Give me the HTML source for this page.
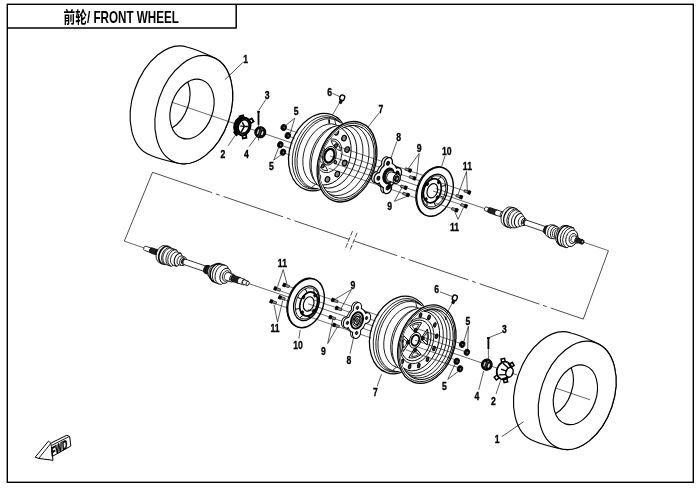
<!DOCTYPE html>
<html lang="zh">
<head>
<meta charset="utf-8">
<title>前轮/ FRONT WHEEL</title>
<style>
html,body{margin:0;padding:0;background:#fff;}
body{width:700px;height:488px;overflow:hidden;}
svg{display:block;will-change:transform;font-family:"Liberation Sans","Noto Sans CJK SC",sans-serif;}
svg path, svg ellipse, svg line{stroke-linecap:butt;stroke-linejoin:round;}
</style>
</head>
<body>
<svg width="700" height="488" viewBox="0 0 700 488">
<rect x="0" y="0" width="700" height="488" fill="#fff"/>
<rect x="7.3" y="4.3" width="686" height="478" fill="none" stroke="#000" stroke-width="1.4"/>
<path d="M7.3 28H236.2V4.3" fill="none" stroke="#000" stroke-width="1.5"/>
<text transform="translate(63.6 22.8) scale(0.72 1)" font-size="16.2" font-weight="bold">前轮/ FRONT WHEEL</text>
<line x1="152.5" y1="172.3" x2="124.3" y2="241.2" stroke="#000" stroke-width="0.7"/>
<line x1="152.5" y1="172.3" x2="349" y2="239.3" stroke="#000" stroke-width="0.7" stroke-dasharray="63 4 4 4"/>
<line x1="583.3" y1="319.1" x2="354.2" y2="241" stroke="#000" stroke-width="0.7" stroke-dasharray="34.5 4 4 4 63 4 4 4 63 4 4 4 63"/>
<line x1="583.3" y1="319.1" x2="608.4" y2="250.7" stroke="#000" stroke-width="0.7"/>
<line x1="352.5" y1="231.1" x2="345" y2="249.4" stroke="#000" stroke-width="0.7" stroke-dasharray="5 1.5"/>
<line x1="357.1" y1="232.8" x2="349.6" y2="251.2" stroke="#000" stroke-width="0.7" stroke-dasharray="5 1.5"/>
<path d="M150.62 155.25A36.26 57.1 18.88 0 1 187.58 47.19C199.02 50.05 207.1 54.43 214.22 57.82A36.44 55.8 18.88 0 1 178.19 163.16C170.49 161.47 161.41 159.99 150.62 155.25Z" fill="#fff" stroke="#000" stroke-width="1.15"/>
<ellipse cx="193.8" cy="109.66" rx="36.44" ry="55.8" transform="rotate(18.88 193.8 109.66)" fill="#fff" stroke="#000" stroke-width="1.15"/>
<ellipse cx="192" cy="109.05" rx="20.88" ry="30.7" transform="rotate(18.88 192 109.05)" fill="#fff" stroke="#000" stroke-width="1.15"/>
<path d="M187.8 81.92A20.88 30.7 18.88 0 1 172.07 127.93" fill="none" stroke="#000" stroke-width="1.15"/>
<path d="M534.02 441A36.26 57.1 18.88 0 1 570.98 332.94C582.42 335.8 590.5 340.18 597.62 343.57A36.44 55.8 18.88 0 1 561.59 448.91C553.89 447.22 544.81 445.74 534.02 441Z" fill="#fff" stroke="#000" stroke-width="1.15"/>
<ellipse cx="577.2" cy="395.41" rx="36.44" ry="55.8" transform="rotate(18.88 577.2 395.41)" fill="#fff" stroke="#000" stroke-width="1.15"/>
<ellipse cx="575.4" cy="394.8" rx="20.88" ry="30.7" transform="rotate(18.88 575.4 394.8)" fill="#fff" stroke="#000" stroke-width="1.15"/>
<path d="M571.2 367.67A20.88 30.7 18.88 0 1 555.47 413.67" fill="none" stroke="#000" stroke-width="1.15"/>
<ellipse cx="318.5" cy="152.06" rx="28.58" ry="39.7" transform="rotate(18.88 318.5 152.06)" fill="#fff" stroke="#000" stroke-width="1.25"/>
<ellipse cx="319.64" cy="152.45" rx="25.89" ry="37.8" transform="rotate(18.88 319.64 152.45)" fill="none" stroke="#000" stroke-width="0.8"/>
<ellipse cx="321.53" cy="153.1" rx="25.21" ry="36.8" transform="rotate(18.88 321.53 153.1)" fill="none" stroke="#000" stroke-width="0.8"/>
<ellipse cx="323.04" cy="153.61" rx="24.66" ry="36" transform="rotate(18.88 323.04 153.61)" fill="none" stroke="#000" stroke-width="0.8"/>
<path d="M329.66 119.42L358.16 129.11L335.84 194.39L307.34 184.7Z" fill="#fff" stroke="none" stroke-width="0"/>
<ellipse cx="325.6" cy="154.49" rx="21.58" ry="31.5" transform="rotate(18.88 325.6 154.49)" fill="#fff" stroke="#000" stroke-width="0.8"/>
<ellipse cx="332.69" cy="156.91" rx="21.71" ry="31.7" transform="rotate(18.88 332.69 156.91)" fill="#fff" stroke="#000" stroke-width="0.8"/>
<ellipse cx="335.53" cy="157.88" rx="23.08" ry="33.7" transform="rotate(18.88 335.53 157.88)" fill="#fff" stroke="#000" stroke-width="0.8"/>
<line x1="334.69" y1="119.55" x2="335.79" y2="124.68" stroke="#000" stroke-width="0.8"/>
<line x1="311.39" y1="187.68" x2="315.4" y2="184.29" stroke="#000" stroke-width="0.8"/>
<ellipse cx="347" cy="161.75" rx="28.29" ry="41.3" transform="rotate(18.88 347 161.75)" fill="#fff" stroke="#000" stroke-width="1.3"/>
<ellipse cx="347" cy="161.75" rx="27.13" ry="39.6" transform="rotate(18.88 347 161.75)" fill="none" stroke="#000" stroke-width="0.8"/>
<ellipse cx="347" cy="161.75" rx="25.69" ry="37.5" transform="rotate(18.88 347 161.75)" fill="none" stroke="#000" stroke-width="0.9"/>
<clipPath id="rtc"><ellipse cx="347" cy="161.75" rx="25.69" ry="37.5" transform="rotate(18.88 347 161.75)"/></clipPath>
<g clip-path="url(#rtc)">
<ellipse cx="342.74" cy="160.29" rx="24.93" ry="36.4" transform="rotate(18.88 342.74 160.29)" fill="none" stroke="#000" stroke-width="0.8"/>
<ellipse cx="338.01" cy="158.68" rx="23.63" ry="34.5" transform="rotate(18.88 338.01 158.68)" fill="none" stroke="#000" stroke-width="0.8"/>
<ellipse cx="333.75" cy="157.22" rx="21.78" ry="31.8" transform="rotate(18.88 333.75 157.22)" fill="none" stroke="#000" stroke-width="0.9"/>
<ellipse cx="329.4" cy="155.77" rx="20.55" ry="30" transform="rotate(18.88 329.4 155.77)" fill="#fff" stroke="#000" stroke-width="0.9"/>
<ellipse cx="344.03" cy="138.12" rx="2.24" ry="2.8" transform="rotate(18.88 344.03 138.12)" fill="#8a8a8a" stroke="#000" stroke-width="1.2"/>
<ellipse cx="347.14" cy="149.56" rx="2.24" ry="2.8" transform="rotate(18.88 347.14 149.56)" fill="#8a8a8a" stroke="#000" stroke-width="1.2"/>
<ellipse cx="344.62" cy="162.96" rx="2.24" ry="2.8" transform="rotate(18.88 344.62 162.96)" fill="#8a8a8a" stroke="#000" stroke-width="1.2"/>
<ellipse cx="337.28" cy="174.08" rx="2.24" ry="2.8" transform="rotate(18.88 337.28 174.08)" fill="#8a8a8a" stroke="#000" stroke-width="1.2"/>
<ellipse cx="327.44" cy="179.4" rx="2.24" ry="2.8" transform="rotate(18.88 327.44 179.4)" fill="#8a8a8a" stroke="#000" stroke-width="1.2"/>
<ellipse cx="318.22" cy="177.22" rx="2.24" ry="2.8" transform="rotate(18.88 318.22 177.22)" fill="#8a8a8a" stroke="#000" stroke-width="1.2"/>
<ellipse cx="312.55" cy="168.25" rx="2.24" ry="2.8" transform="rotate(18.88 312.55 168.25)" fill="#8a8a8a" stroke="#000" stroke-width="1.2"/>
<ellipse cx="312.21" cy="155.32" rx="2.24" ry="2.8" transform="rotate(18.88 312.21 155.32)" fill="#8a8a8a" stroke="#000" stroke-width="1.2"/>
<ellipse cx="317.33" cy="142.53" rx="2.24" ry="2.8" transform="rotate(18.88 317.33 142.53)" fill="#8a8a8a" stroke="#000" stroke-width="1.2"/>
<ellipse cx="326.27" cy="133.93" rx="2.24" ry="2.8" transform="rotate(18.88 326.27 133.93)" fill="#8a8a8a" stroke="#000" stroke-width="1.2"/>
<ellipse cx="336.2" cy="132.26" rx="2.24" ry="2.8" transform="rotate(18.88 336.2 132.26)" fill="#8a8a8a" stroke="#000" stroke-width="1.2"/>
<ellipse cx="329.4" cy="155.77" rx="11.99" ry="17.5" transform="rotate(18.88 329.4 155.77)" fill="none" stroke="#000" stroke-width="0.8"/>
<path d="M331.07 140.76Q339.39 140.31 340.58 150.91Q333.87 148.85 331.07 140.76Z" fill="#fff" stroke="#000" stroke-width="0.9"/>
<ellipse cx="335.97" cy="145.6" rx="1.52" ry="1.9" transform="rotate(18.88 335.97 145.6)" fill="#555" stroke="#000" stroke-width="1"/>
<path d="M327.73 170.78Q319.41 171.22 318.22 160.62Q324.93 162.68 327.73 170.78Z" fill="#fff" stroke="#000" stroke-width="0.9"/>
<ellipse cx="322.83" cy="165.93" rx="1.52" ry="1.9" transform="rotate(18.88 322.83 165.93)" fill="#555" stroke="#000" stroke-width="1"/>
<ellipse cx="335.38" cy="162.15" rx="1.28" ry="1.6" transform="rotate(18.88 335.38 162.15)" fill="#777" stroke="#000" stroke-width="1"/>
<ellipse cx="323.42" cy="149.38" rx="1.28" ry="1.6" transform="rotate(18.88 323.42 149.38)" fill="#777" stroke="#000" stroke-width="1"/>
<ellipse cx="329.4" cy="155.77" rx="6.58" ry="9.6" transform="rotate(18.88 329.4 155.77)" fill="#fff" stroke="#000" stroke-width="0.9"/>
<ellipse cx="329.4" cy="155.77" rx="4.79" ry="7" transform="rotate(18.88 329.4 155.77)" fill="#fff" stroke="#000" stroke-width="2.2"/>
</g>
<ellipse cx="399.5" cy="334.91" rx="28.66" ry="39.8" transform="rotate(18.88 399.5 334.91)" fill="#fff" stroke="#000" stroke-width="1.25"/>
<ellipse cx="400.64" cy="335.29" rx="25.96" ry="37.9" transform="rotate(18.88 400.64 335.29)" fill="none" stroke="#000" stroke-width="0.8"/>
<ellipse cx="402.53" cy="335.94" rx="25.28" ry="36.9" transform="rotate(18.88 402.53 335.94)" fill="none" stroke="#000" stroke-width="0.8"/>
<ellipse cx="404.04" cy="336.46" rx="24.73" ry="36.1" transform="rotate(18.88 404.04 336.46)" fill="none" stroke="#000" stroke-width="0.8"/>
<path d="M410.7 302.17L438 311.46L415.6 376.94L388.3 367.64Z" fill="#fff" stroke="none" stroke-width="0"/>
<ellipse cx="406.6" cy="337.33" rx="21.65" ry="31.6" transform="rotate(18.88 406.6 337.33)" fill="#fff" stroke="#000" stroke-width="0.8"/>
<ellipse cx="413.69" cy="339.76" rx="21.78" ry="31.8" transform="rotate(18.88 413.69 339.76)" fill="#fff" stroke="#000" stroke-width="0.8"/>
<ellipse cx="416.53" cy="340.73" rx="23.15" ry="33.8" transform="rotate(18.88 416.53 340.73)" fill="#fff" stroke="#000" stroke-width="0.8"/>
<line x1="415.72" y1="302.3" x2="416.82" y2="307.43" stroke="#000" stroke-width="0.8"/>
<line x1="392.36" y1="370.62" x2="396.37" y2="367.23" stroke="#000" stroke-width="0.8"/>
<ellipse cx="426.8" cy="344.2" rx="27.61" ry="40.3" transform="rotate(18.88 426.8 344.2)" fill="#fff" stroke="#000" stroke-width="1.3"/>
<ellipse cx="426.8" cy="344.2" rx="26.44" ry="38.6" transform="rotate(18.88 426.8 344.2)" fill="none" stroke="#000" stroke-width="0.8"/>
<ellipse cx="426.8" cy="344.2" rx="25" ry="36.5" transform="rotate(18.88 426.8 344.2)" fill="none" stroke="#000" stroke-width="0.9"/>
<clipPath id="rbc"><ellipse cx="426.8" cy="344.2" rx="25" ry="36.5" transform="rotate(18.88 426.8 344.2)"/></clipPath>
<g clip-path="url(#rbc)">
<ellipse cx="424.43" cy="343.39" rx="24.39" ry="35.6" transform="rotate(18.88 424.43 343.39)" fill="none" stroke="#000" stroke-width="0.8"/>
<ellipse cx="422.07" cy="342.58" rx="23.56" ry="34.4" transform="rotate(18.88 422.07 342.58)" fill="none" stroke="#000" stroke-width="0.8"/>
<ellipse cx="419.7" cy="341.77" rx="22.33" ry="32.6" transform="rotate(18.88 419.7 341.77)" fill="none" stroke="#000" stroke-width="0.8"/>
<ellipse cx="417.34" cy="340.97" rx="21.1" ry="30.8" transform="rotate(18.88 417.34 340.97)" fill="#fff" stroke="#000" stroke-width="0.9"/>
<ellipse cx="420.53" cy="315.17" rx="1.26" ry="2.3" transform="rotate(18.88 420.53 315.17)" fill="#333" stroke="#000" stroke-width="1"/>
<ellipse cx="429" cy="317.33" rx="1.26" ry="2.3" transform="rotate(18.88 429 317.33)" fill="#333" stroke="#000" stroke-width="1"/>
<ellipse cx="434.79" cy="324.9" rx="1.26" ry="2.3" transform="rotate(18.88 434.79 324.9)" fill="#333" stroke="#000" stroke-width="1"/>
<ellipse cx="436.59" cy="336.16" rx="1.26" ry="2.3" transform="rotate(18.88 436.59 336.16)" fill="#333" stroke="#000" stroke-width="1"/>
<ellipse cx="433.97" cy="348.52" rx="1.26" ry="2.3" transform="rotate(18.88 433.97 348.52)" fill="#333" stroke="#000" stroke-width="1"/>
<ellipse cx="427.54" cy="359.14" rx="1.26" ry="2.3" transform="rotate(18.88 427.54 359.14)" fill="#333" stroke="#000" stroke-width="1"/>
<ellipse cx="418.77" cy="365.6" rx="1.26" ry="2.3" transform="rotate(18.88 418.77 365.6)" fill="#333" stroke="#000" stroke-width="1"/>
<ellipse cx="409.68" cy="366.42" rx="1.26" ry="2.3" transform="rotate(18.88 409.68 366.42)" fill="#333" stroke="#000" stroke-width="1"/>
<ellipse cx="402.33" cy="361.4" rx="1.26" ry="2.3" transform="rotate(18.88 402.33 361.4)" fill="#333" stroke="#000" stroke-width="1"/>
<ellipse cx="398.43" cy="351.69" rx="1.26" ry="2.3" transform="rotate(18.88 398.43 351.69)" fill="#333" stroke="#000" stroke-width="1"/>
<ellipse cx="398.86" cy="339.53" rx="1.26" ry="2.3" transform="rotate(18.88 398.86 339.53)" fill="#333" stroke="#000" stroke-width="1"/>
<ellipse cx="403.53" cy="327.7" rx="1.26" ry="2.3" transform="rotate(18.88 403.53 327.7)" fill="#333" stroke="#000" stroke-width="1"/>
<ellipse cx="411.36" cy="318.9" rx="1.26" ry="2.3" transform="rotate(18.88 411.36 318.9)" fill="#333" stroke="#000" stroke-width="1"/>
<ellipse cx="416.77" cy="340.77" rx="16.17" ry="23.6" transform="rotate(18.88 416.77 340.77)" fill="none" stroke="#000" stroke-width="0.8"/>
<ellipse cx="415.82" cy="340.45" rx="14.39" ry="21" transform="rotate(18.88 415.82 340.45)" fill="none" stroke="#000" stroke-width="0.9"/>
<path d="M415.4 333.02L409.46 326.17Q415.64 321.42 421.69 322.81Z" fill="#fff" stroke="#000" stroke-width="1" stroke-linejoin="round"/>
<path d="M415.46 330.17L412.05 326.12Q415.6 323.32 419.08 324.19Z" fill="#fff" stroke="#000" stroke-width="0.8" stroke-linejoin="round"/>
<ellipse cx="415.46" cy="330.36" rx="1.44" ry="1.8" transform="rotate(18.88 415.46 330.36)" fill="#222" stroke="#000" stroke-width="0.9"/>
<path d="M420.76 338.74L427.42 328.92Q429.6 336.31 427.09 344.99Z" fill="#fff" stroke="#000" stroke-width="1" stroke-linejoin="round"/>
<path d="M422.93 338.14L426.85 332.48Q428.15 336.71 426.66 341.71Z" fill="#fff" stroke="#000" stroke-width="0.8" stroke-linejoin="round"/>
<ellipse cx="422.79" cy="338.18" rx="1.44" ry="1.8" transform="rotate(18.88 422.79 338.18)" fill="#222" stroke="#000" stroke-width="0.9"/>
<path d="M415.11 347.48L421.05 354.34Q414.87 359.09 408.82 357.7Z" fill="#fff" stroke="#000" stroke-width="1" stroke-linejoin="round"/>
<path d="M415.05 350.34L418.46 354.39Q414.91 357.19 411.43 356.32Z" fill="#fff" stroke="#000" stroke-width="0.8" stroke-linejoin="round"/>
<ellipse cx="415.06" cy="350.15" rx="1.44" ry="1.8" transform="rotate(18.88 415.06 350.15)" fill="#222" stroke="#000" stroke-width="0.9"/>
<path d="M409.75 341.77L403.09 351.58Q400.92 344.19 403.42 335.52Z" fill="#fff" stroke="#000" stroke-width="1" stroke-linejoin="round"/>
<path d="M407.58 342.36L403.67 348.03Q402.37 343.8 403.85 338.8Z" fill="#fff" stroke="#000" stroke-width="0.8" stroke-linejoin="round"/>
<ellipse cx="407.72" cy="342.32" rx="1.44" ry="1.8" transform="rotate(18.88 407.72 342.32)" fill="#222" stroke="#000" stroke-width="0.9"/>
<ellipse cx="415.26" cy="340.25" rx="5.62" ry="8.2" transform="rotate(18.88 415.26 340.25)" fill="#fff" stroke="#000" stroke-width="0.9"/>
<ellipse cx="415.26" cy="340.25" rx="3.7" ry="5.4" transform="rotate(18.88 415.26 340.25)" fill="#fff" stroke="#000" stroke-width="1.8"/>
</g>
<ellipse cx="434.05" cy="191.35" rx="17.33" ry="25.3" transform="rotate(18.88 434.05 191.35)" fill="#fff" stroke="#000" stroke-width="1"/>
<ellipse cx="435" cy="191.67" rx="17.33" ry="25.3" transform="rotate(18.88 435 191.67)" fill="#fff" stroke="#000" stroke-width="1.4"/>
<ellipse cx="434.53" cy="191.51" rx="12.19" ry="17.8" transform="rotate(18.88 434.53 191.51)" fill="#fff" stroke="#000" stroke-width="1.3"/>
<ellipse cx="434.05" cy="191.35" rx="11.1" ry="16.2" transform="rotate(18.88 434.05 191.35)" fill="none" stroke="#000" stroke-width="0.8"/>
<line x1="441.04" y1="176.87" x2="437.7" y2="179.69" stroke="#000" stroke-width="1"/>
<line x1="445.66" y1="185.5" x2="441.24" y2="186.29" stroke="#000" stroke-width="1"/>
<line x1="443.48" y1="197.54" x2="439.57" y2="195.51" stroke="#000" stroke-width="1"/>
<line x1="435.78" y1="205.96" x2="433.67" y2="201.95" stroke="#000" stroke-width="1"/>
<line x1="427.07" y1="205.82" x2="427" y2="201.84" stroke="#000" stroke-width="1"/>
<line x1="422.45" y1="197.2" x2="423.47" y2="195.24" stroke="#000" stroke-width="1"/>
<line x1="424.62" y1="185.15" x2="425.13" y2="186.02" stroke="#000" stroke-width="1"/>
<line x1="432.33" y1="176.73" x2="431.03" y2="179.58" stroke="#000" stroke-width="1"/>
<ellipse cx="432.35" cy="190.76" rx="8.49" ry="12.4" transform="rotate(18.88 432.35 190.76)" fill="#fff" stroke="#000" stroke-width="1.7"/>
<ellipse cx="438.7" cy="182.21" rx="1.16" ry="1.7" transform="rotate(18.88 438.7 182.21)" fill="#111" stroke="#000" stroke-width="0.8"/>
<ellipse cx="437.4" cy="197.49" rx="1.16" ry="1.7" transform="rotate(18.88 437.4 197.49)" fill="#111" stroke="#000" stroke-width="0.8"/>
<ellipse cx="426" cy="199.32" rx="1.16" ry="1.7" transform="rotate(18.88 426 199.32)" fill="#111" stroke="#000" stroke-width="0.8"/>
<ellipse cx="427.3" cy="184.04" rx="1.16" ry="1.7" transform="rotate(18.88 427.3 184.04)" fill="#111" stroke="#000" stroke-width="0.8"/>
<ellipse cx="432.35" cy="190.76" rx="5.07" ry="7.4" transform="rotate(18.88 432.35 190.76)" fill="#fff" stroke="#000" stroke-width="1.2"/>
<ellipse cx="305.05" cy="302.75" rx="17.33" ry="25.3" transform="rotate(18.88 305.05 302.75)" fill="#fff" stroke="#000" stroke-width="1"/>
<ellipse cx="306" cy="303.07" rx="17.33" ry="25.3" transform="rotate(18.88 306 303.07)" fill="#fff" stroke="#000" stroke-width="1.4"/>
<ellipse cx="306.47" cy="303.23" rx="12.19" ry="17.8" transform="rotate(18.88 306.47 303.23)" fill="#fff" stroke="#000" stroke-width="1.3"/>
<ellipse cx="306.95" cy="303.39" rx="11.1" ry="16.2" transform="rotate(18.88 306.95 303.39)" fill="none" stroke="#000" stroke-width="0.8"/>
<line x1="313.93" y1="288.92" x2="314" y2="292.9" stroke="#000" stroke-width="1"/>
<line x1="318.55" y1="297.54" x2="317.53" y2="299.5" stroke="#000" stroke-width="1"/>
<line x1="316.38" y1="309.59" x2="315.87" y2="308.72" stroke="#000" stroke-width="1"/>
<line x1="308.67" y1="318.01" x2="309.97" y2="315.16" stroke="#000" stroke-width="1"/>
<line x1="299.96" y1="317.86" x2="303.3" y2="315.05" stroke="#000" stroke-width="1"/>
<line x1="295.34" y1="309.24" x2="299.76" y2="308.45" stroke="#000" stroke-width="1"/>
<line x1="297.52" y1="297.19" x2="301.43" y2="299.23" stroke="#000" stroke-width="1"/>
<line x1="305.22" y1="288.78" x2="307.33" y2="292.79" stroke="#000" stroke-width="1"/>
<ellipse cx="308.65" cy="303.97" rx="8.49" ry="12.4" transform="rotate(18.88 308.65 303.97)" fill="#fff" stroke="#000" stroke-width="1.7"/>
<ellipse cx="315" cy="295.42" rx="1.16" ry="1.7" transform="rotate(18.88 315 295.42)" fill="#111" stroke="#000" stroke-width="0.8"/>
<ellipse cx="313.7" cy="310.7" rx="1.16" ry="1.7" transform="rotate(18.88 313.7 310.7)" fill="#111" stroke="#000" stroke-width="0.8"/>
<ellipse cx="302.3" cy="312.53" rx="1.16" ry="1.7" transform="rotate(18.88 302.3 312.53)" fill="#111" stroke="#000" stroke-width="0.8"/>
<ellipse cx="303.6" cy="297.25" rx="1.16" ry="1.7" transform="rotate(18.88 303.6 297.25)" fill="#111" stroke="#000" stroke-width="0.8"/>
<ellipse cx="308.65" cy="303.97" rx="5.07" ry="7.4" transform="rotate(18.88 308.65 303.97)" fill="#fff" stroke="#000" stroke-width="1.2"/>
<line x1="172.1" y1="102.28" x2="292.77" y2="143.31" stroke="#000" stroke-width="0.6"/>
<line x1="330" y1="155.97" x2="418.6" y2="186.09" stroke="#000" stroke-width="0.6"/>
<line x1="433" y1="190.99" x2="608.4" y2="250.63" stroke="#000" stroke-width="0.6"/>
<line x1="124.3" y1="241.2" x2="289.6" y2="297.49" stroke="#000" stroke-width="0.6"/>
<line x1="308" y1="303.75" x2="373.7" y2="326.12" stroke="#000" stroke-width="0.6"/>
<line x1="415" y1="340.18" x2="517" y2="374.91" stroke="#000" stroke-width="0.6"/>
<line x1="555.5" y1="388.02" x2="590" y2="399.77" stroke="#000" stroke-width="0.6"/>
<ellipse cx="485.8" cy="208.94" rx="1.37" ry="2" transform="rotate(18.88 485.8 208.94)" fill="#fff" stroke="none" stroke-width="0"/>
<ellipse cx="489.6" cy="210.24" rx="1.37" ry="2" transform="rotate(18.88 489.6 210.24)" fill="#fff" stroke="none" stroke-width="0"/>
<path d="M486.45 207.05L490.25 208.35L488.95 212.14L485.15 210.84Z" fill="#fff" stroke="none" stroke-width="0"/>
<path d="M486.45 207.05L490.25 208.35" fill="none" stroke="#000" stroke-width="0.8"/>
<path d="M485.15 210.84L488.95 212.14" fill="none" stroke="#000" stroke-width="0.8"/>
<path d="M485.15 210.84A1.37 2 18.88 0 1 486.45 207.05" fill="none" stroke="#000" stroke-width="0.8"/>
<ellipse cx="489.6" cy="210.24" rx="1.37" ry="2" transform="rotate(18.88 489.6 210.24)" fill="#fff" stroke="#000" stroke-width="0.8"/>
<ellipse cx="489.6" cy="210.24" rx="1.78" ry="2.6" transform="rotate(18.88 489.6 210.24)" fill="#222" stroke="none" stroke-width="0"/>
<ellipse cx="496.5" cy="212.6" rx="1.78" ry="2.6" transform="rotate(18.88 496.5 212.6)" fill="#222" stroke="none" stroke-width="0"/>
<path d="M490.44 207.78L497.34 210.14L495.66 215.06L488.76 212.7Z" fill="#222" stroke="none" stroke-width="0"/>
<path d="M490.44 207.78L497.34 210.14" fill="none" stroke="#000" stroke-width="0.8"/>
<path d="M488.76 212.7L495.66 215.06" fill="none" stroke="#000" stroke-width="0.8"/>
<path d="M488.76 212.7A1.78 2.6 18.88 0 1 490.44 207.78" fill="none" stroke="#000" stroke-width="0.8"/>
<ellipse cx="496.5" cy="212.6" rx="1.78" ry="2.6" transform="rotate(18.88 496.5 212.6)" fill="#222" stroke="#000" stroke-width="0.8"/>
<ellipse cx="496.5" cy="212.6" rx="1.78" ry="2.6" transform="rotate(18.88 496.5 212.6)" fill="#fff" stroke="none" stroke-width="0"/>
<ellipse cx="502" cy="214.49" rx="1.78" ry="2.6" transform="rotate(18.88 502 214.49)" fill="#fff" stroke="none" stroke-width="0"/>
<path d="M497.34 210.14L502.84 212.03L501.16 216.95L495.66 215.06Z" fill="#fff" stroke="none" stroke-width="0"/>
<path d="M497.34 210.14L502.84 212.03" fill="none" stroke="#000" stroke-width="0.8"/>
<path d="M495.66 215.06L501.16 216.95" fill="none" stroke="#000" stroke-width="0.8"/>
<path d="M495.66 215.06A1.78 2.6 18.88 0 1 497.34 210.14" fill="none" stroke="#000" stroke-width="0.8"/>
<ellipse cx="502" cy="214.49" rx="1.78" ry="2.6" transform="rotate(18.88 502 214.49)" fill="#fff" stroke="#000" stroke-width="0.8"/>
<ellipse cx="508.2" cy="216.61" rx="6.85" ry="10" transform="rotate(18.88 508.2 216.61)" fill="#fff" stroke="none" stroke-width="0"/>
<ellipse cx="511" cy="217.56" rx="7.06" ry="10.3" transform="rotate(18.88 511 217.56)" fill="#fff" stroke="none" stroke-width="0"/>
<ellipse cx="514" cy="218.59" rx="6.85" ry="10" transform="rotate(18.88 514 218.59)" fill="#fff" stroke="none" stroke-width="0"/>
<ellipse cx="515" cy="218.93" rx="6.37" ry="9.3" transform="rotate(18.88 515 218.93)" fill="#fff" stroke="none" stroke-width="0"/>
<ellipse cx="517.5" cy="219.79" rx="5.89" ry="8.6" transform="rotate(18.88 517.5 219.79)" fill="#fff" stroke="none" stroke-width="0"/>
<ellipse cx="519.5" cy="220.47" rx="4.93" ry="7.2" transform="rotate(18.88 519.5 220.47)" fill="#fff" stroke="none" stroke-width="0"/>
<ellipse cx="522" cy="221.33" rx="3.56" ry="5.2" transform="rotate(18.88 522 221.33)" fill="#fff" stroke="none" stroke-width="0"/>
<ellipse cx="524" cy="222.01" rx="2.6" ry="3.8" transform="rotate(18.88 524 222.01)" fill="#fff" stroke="none" stroke-width="0"/>
<path d="M511.44 207.14L514.33 207.82L517.24 209.13L518.01 210.13L520.28 211.65L521.83 213.66L523.68 216.4L525.23 218.41L522.77 225.6L520.32 226.25L517.17 227.28L514.72 227.92L511.99 227.73L510.76 228.05L507.67 227.31L504.96 226.07Z" fill="#fff" stroke="none" stroke-width="0"/>
<path d="M511.44 207.14L514.33 207.82L517.24 209.13L518.01 210.13L520.28 211.65L521.83 213.66L523.68 216.4L525.23 218.41" fill="none" stroke="#000" stroke-width="0.85"/>
<path d="M504.96 226.07L507.67 227.31L510.76 228.05L511.99 227.73L514.72 227.92L517.17 227.28L520.32 226.25L522.77 225.6" fill="none" stroke="#000" stroke-width="0.85"/>
<path d="M504.96 226.07A6.85 10 18.88 0 1 511.44 207.14" fill="none" stroke="#000" stroke-width="0.85"/>
<ellipse cx="524" cy="222.01" rx="2.6" ry="3.8" transform="rotate(18.88 524 222.01)" fill="#fff" stroke="#000" stroke-width="0.85"/>
<path d="M507.67 227.31A7.06 10.3 18.88 0 1 514.33 207.82" fill="none" stroke="#000" stroke-width="1.3"/>
<path d="M510.76 228.05A6.85 10 18.88 0 1 517.24 209.13" fill="none" stroke="#000" stroke-width="0.85"/>
<path d="M511.99 227.73A6.37 9.3 18.88 0 1 518.01 210.13" fill="none" stroke="#000" stroke-width="0.85"/>
<path d="M514.72 227.92A5.89 8.6 18.88 0 1 520.28 211.65" fill="none" stroke="#000" stroke-width="0.85"/>
<path d="M517.17 227.28A4.93 7.2 18.88 0 1 521.83 213.66" fill="none" stroke="#000" stroke-width="1.1"/>
<path d="M520.32 226.25A3.56 5.2 18.88 0 1 523.68 216.4" fill="none" stroke="#000" stroke-width="0.85"/>
<ellipse cx="524.6" cy="222.13" rx="1.78" ry="2.6" transform="rotate(18.88 524.6 222.13)" fill="#333" stroke="#000" stroke-width="0.8"/>
<ellipse cx="526" cy="222.69" rx="1.78" ry="2.6" transform="rotate(18.88 526 222.69)" fill="#fff" stroke="none" stroke-width="0"/>
<ellipse cx="548" cy="230.22" rx="1.78" ry="2.6" transform="rotate(18.88 548 230.22)" fill="#fff" stroke="none" stroke-width="0"/>
<path d="M526.84 220.23L548.84 227.76L547.16 232.68L525.16 225.15Z" fill="#fff" stroke="none" stroke-width="0"/>
<path d="M526.84 220.23L548.84 227.76" fill="none" stroke="#000" stroke-width="0.8"/>
<path d="M525.16 225.15L547.16 232.68" fill="none" stroke="#000" stroke-width="0.8"/>
<path d="M525.16 225.15A1.78 2.6 18.88 0 1 526.84 220.23" fill="none" stroke="#000" stroke-width="0.8"/>
<path d="M547.16 232.68A1.78 2.6 18.88 0 1 548.84 227.76" fill="none" stroke="#000" stroke-width="0.8"/>
<ellipse cx="546.5" cy="229.7" rx="2.88" ry="4.2" transform="rotate(18.88 546.5 229.7)" fill="#222" stroke="none" stroke-width="0"/>
<ellipse cx="548.2" cy="230.29" rx="2.88" ry="4.2" transform="rotate(18.88 548.2 230.29)" fill="#222" stroke="none" stroke-width="0"/>
<path d="M547.86 225.73L549.56 226.31L546.84 234.26L545.14 233.68Z" fill="#222" stroke="none" stroke-width="0"/>
<path d="M547.86 225.73L549.56 226.31" fill="none" stroke="#000" stroke-width="0.8"/>
<path d="M545.14 233.68L546.84 234.26" fill="none" stroke="#000" stroke-width="0.8"/>
<path d="M545.14 233.68A2.88 4.2 18.88 0 1 547.86 225.73" fill="none" stroke="#000" stroke-width="0.8"/>
<ellipse cx="548.2" cy="230.29" rx="2.88" ry="4.2" transform="rotate(18.88 548.2 230.29)" fill="#222" stroke="#000" stroke-width="0.8"/>
<ellipse cx="549.8" cy="230.83" rx="4.32" ry="6.3" transform="rotate(18.88 549.8 230.83)" fill="#fff" stroke="none" stroke-width="0"/>
<ellipse cx="552.5" cy="231.76" rx="4.66" ry="6.8" transform="rotate(18.88 552.5 231.76)" fill="#fff" stroke="none" stroke-width="0"/>
<ellipse cx="555" cy="232.61" rx="4.38" ry="6.4" transform="rotate(18.88 555 232.61)" fill="#fff" stroke="none" stroke-width="0"/>
<path d="M551.84 224.87L554.7 225.32L557.07 226.56L552.93 238.67L550.3 238.19L547.76 236.79Z" fill="#fff" stroke="none" stroke-width="0"/>
<path d="M551.84 224.87L554.7 225.32L557.07 226.56" fill="none" stroke="#000" stroke-width="0.85"/>
<path d="M547.76 236.79L550.3 238.19L552.93 238.67" fill="none" stroke="#000" stroke-width="0.85"/>
<path d="M547.76 236.79A4.32 6.3 18.88 0 1 551.84 224.87" fill="none" stroke="#000" stroke-width="0.85"/>
<ellipse cx="555" cy="232.61" rx="4.38" ry="6.4" transform="rotate(18.88 555 232.61)" fill="#fff" stroke="#000" stroke-width="0.85"/>
<path d="M550.3 238.19A4.66 6.8 18.88 0 1 554.7 225.32" fill="none" stroke="#000" stroke-width="0.85"/>
<ellipse cx="556" cy="232.95" rx="3.43" ry="5" transform="rotate(18.88 556 232.95)" fill="#fff" stroke="none" stroke-width="0"/>
<ellipse cx="558" cy="233.64" rx="3.43" ry="5" transform="rotate(18.88 558 233.64)" fill="#fff" stroke="none" stroke-width="0"/>
<path d="M557.62 228.22L559.62 228.91L556.38 238.37L554.38 237.68Z" fill="#fff" stroke="none" stroke-width="0"/>
<path d="M557.62 228.22L559.62 228.91" fill="none" stroke="#000" stroke-width="0.8"/>
<path d="M554.38 237.68L556.38 238.37" fill="none" stroke="#000" stroke-width="0.8"/>
<path d="M554.38 237.68A3.43 5 18.88 0 1 557.62 228.22" fill="none" stroke="#000" stroke-width="0.8"/>
<ellipse cx="558" cy="233.64" rx="3.43" ry="5" transform="rotate(18.88 558 233.64)" fill="#fff" stroke="#000" stroke-width="0.8"/>
<ellipse cx="563" cy="235.35" rx="7.06" ry="10.3" transform="rotate(18.88 563 235.35)" fill="#fff" stroke="none" stroke-width="0"/>
<ellipse cx="567.5" cy="236.89" rx="7.33" ry="10.7" transform="rotate(18.88 567.5 236.89)" fill="#fff" stroke="none" stroke-width="0"/>
<ellipse cx="570.3" cy="237.84" rx="7.19" ry="10.5" transform="rotate(18.88 570.3 237.84)" fill="#fff" stroke="none" stroke-width="0"/>
<ellipse cx="571.8" cy="238.36" rx="5.75" ry="8.4" transform="rotate(18.88 571.8 238.36)" fill="#fff" stroke="none" stroke-width="0"/>
<path d="M566.33 225.6L570.96 226.76L573.7 227.91L574.52 230.41L569.08 246.3L566.9 247.78L564.04 247.01L559.67 245.09Z" fill="#fff" stroke="none" stroke-width="0"/>
<path d="M566.33 225.6L570.96 226.76L573.7 227.91L574.52 230.41" fill="none" stroke="#000" stroke-width="0.9"/>
<path d="M559.67 245.09L564.04 247.01L566.9 247.78L569.08 246.3" fill="none" stroke="#000" stroke-width="0.9"/>
<path d="M559.67 245.09A7.06 10.3 18.88 0 1 566.33 225.6" fill="none" stroke="#000" stroke-width="0.9"/>
<ellipse cx="571.8" cy="238.36" rx="5.75" ry="8.4" transform="rotate(18.88 571.8 238.36)" fill="#fff" stroke="#000" stroke-width="0.9"/>
<path d="M561.57 246.06A7.26 10.6 18.88 0 1 568.43 226" fill="none" stroke="#000" stroke-width="1.4"/>
<path d="M564.54 247.18A7.33 10.7 18.88 0 1 571.46 226.93" fill="none" stroke="#000" stroke-width="0.9"/>
<path d="M566.9 247.78A7.19 10.5 18.88 0 1 573.7 227.91" fill="none" stroke="#000" stroke-width="0.9"/>
<ellipse cx="572.8" cy="238.52" rx="3.56" ry="5.2" transform="rotate(18.88 572.8 238.52)" fill="#fff" stroke="#000" stroke-width="0.8"/>
<ellipse cx="573.3" cy="238.87" rx="2.19" ry="3.2" transform="rotate(18.88 573.3 238.87)" fill="#fff" stroke="none" stroke-width="0"/>
<ellipse cx="577" cy="240.14" rx="2.19" ry="3.2" transform="rotate(18.88 577 240.14)" fill="#fff" stroke="none" stroke-width="0"/>
<path d="M574.34 235.84L578.04 237.11L575.96 243.16L572.26 241.9Z" fill="#fff" stroke="none" stroke-width="0"/>
<path d="M574.34 235.84L578.04 237.11" fill="none" stroke="#000" stroke-width="0.8"/>
<path d="M572.26 241.9L575.96 243.16" fill="none" stroke="#000" stroke-width="0.8"/>
<path d="M572.26 241.9A2.19 3.2 18.88 0 1 574.34 235.84" fill="none" stroke="#000" stroke-width="0.8"/>
<ellipse cx="577" cy="240.14" rx="2.19" ry="3.2" transform="rotate(18.88 577 240.14)" fill="#fff" stroke="#000" stroke-width="0.8"/>
<ellipse cx="577" cy="240.14" rx="1.51" ry="2.2" transform="rotate(18.88 577 240.14)" fill="#222" stroke="none" stroke-width="0"/>
<ellipse cx="582.4" cy="241.98" rx="1.51" ry="2.2" transform="rotate(18.88 582.4 241.98)" fill="#222" stroke="none" stroke-width="0"/>
<path d="M577.71 238.05L583.11 239.9L581.69 244.06L576.29 242.22Z" fill="#222" stroke="none" stroke-width="0"/>
<path d="M577.71 238.05L583.11 239.9" fill="none" stroke="#000" stroke-width="0.8"/>
<path d="M576.29 242.22L581.69 244.06" fill="none" stroke="#000" stroke-width="0.8"/>
<path d="M576.29 242.22A1.51 2.2 18.88 0 1 577.71 238.05" fill="none" stroke="#000" stroke-width="0.8"/>
<ellipse cx="582.4" cy="241.98" rx="1.51" ry="2.2" transform="rotate(18.88 582.4 241.98)" fill="#222" stroke="#000" stroke-width="0.8"/>
<ellipse cx="582.4" cy="241.79" rx="0.89" ry="1.3" transform="rotate(18.88 582.4 241.79)" fill="#ccc" stroke="#000" stroke-width="0.5"/>
<ellipse cx="145.2" cy="248.32" rx="1.51" ry="2.2" transform="rotate(18.88 145.2 248.32)" fill="#fff" stroke="none" stroke-width="0"/>
<ellipse cx="151.4" cy="250.44" rx="1.51" ry="2.2" transform="rotate(18.88 151.4 250.44)" fill="#fff" stroke="none" stroke-width="0"/>
<path d="M145.91 246.24L152.11 248.36L150.69 252.52L144.49 250.4Z" fill="#fff" stroke="none" stroke-width="0"/>
<path d="M145.91 246.24L152.11 248.36" fill="none" stroke="#000" stroke-width="0.8"/>
<path d="M144.49 250.4L150.69 252.52" fill="none" stroke="#000" stroke-width="0.8"/>
<path d="M144.49 250.4A1.51 2.2 18.88 0 1 145.91 246.24" fill="none" stroke="#000" stroke-width="0.8"/>
<ellipse cx="151.4" cy="250.44" rx="1.51" ry="2.2" transform="rotate(18.88 151.4 250.44)" fill="#fff" stroke="#000" stroke-width="0.8"/>
<ellipse cx="151.4" cy="250.44" rx="1.85" ry="2.7" transform="rotate(18.88 151.4 250.44)" fill="#222" stroke="none" stroke-width="0"/>
<ellipse cx="157.5" cy="252.53" rx="1.85" ry="2.7" transform="rotate(18.88 157.5 252.53)" fill="#222" stroke="none" stroke-width="0"/>
<path d="M152.27 247.89L158.37 249.97L156.63 255.08L150.53 252.99Z" fill="#222" stroke="none" stroke-width="0"/>
<path d="M152.27 247.89L158.37 249.97" fill="none" stroke="#000" stroke-width="0.8"/>
<path d="M150.53 252.99L156.63 255.08" fill="none" stroke="#000" stroke-width="0.8"/>
<path d="M150.53 252.99A1.85 2.7 18.88 0 1 152.27 247.89" fill="none" stroke="#000" stroke-width="0.8"/>
<ellipse cx="157.5" cy="252.53" rx="1.85" ry="2.7" transform="rotate(18.88 157.5 252.53)" fill="#222" stroke="#000" stroke-width="0.8"/>
<ellipse cx="162.5" cy="254.24" rx="6.17" ry="9" transform="rotate(18.88 162.5 254.24)" fill="#fff" stroke="none" stroke-width="0"/>
<ellipse cx="166" cy="255.43" rx="6.37" ry="9.3" transform="rotate(18.88 166 255.43)" fill="#fff" stroke="none" stroke-width="0"/>
<ellipse cx="168" cy="256.12" rx="6.23" ry="9.1" transform="rotate(18.88 168 256.12)" fill="#fff" stroke="none" stroke-width="0"/>
<ellipse cx="169" cy="256.46" rx="5.89" ry="8.6" transform="rotate(18.88 169 256.46)" fill="#fff" stroke="none" stroke-width="0"/>
<ellipse cx="174" cy="258.17" rx="5.89" ry="8.6" transform="rotate(18.88 174 258.17)" fill="#fff" stroke="none" stroke-width="0"/>
<ellipse cx="175.5" cy="258.68" rx="4.79" ry="7" transform="rotate(18.88 175.5 258.68)" fill="#fff" stroke="none" stroke-width="0"/>
<ellipse cx="179" cy="259.88" rx="4.66" ry="6.8" transform="rotate(18.88 179 259.88)" fill="#fff" stroke="none" stroke-width="0"/>
<ellipse cx="180.5" cy="260.39" rx="3.29" ry="4.8" transform="rotate(18.88 180.5 260.39)" fill="#fff" stroke="none" stroke-width="0"/>
<ellipse cx="183" cy="261.25" rx="3.08" ry="4.5" transform="rotate(18.88 183 261.25)" fill="#fff" stroke="none" stroke-width="0"/>
<path d="M165.41 245.72L169.01 246.63L170.94 247.51L171.78 248.32L176.78 250.03L177.77 252.06L181.2 253.45L182.05 255.85L184.46 256.99L181.54 265.51L178.95 264.93L176.8 266.31L173.23 265.31L171.22 266.31L166.22 264.6L165.06 264.73L162.99 264.23L159.59 262.75Z" fill="#fff" stroke="none" stroke-width="0"/>
<path d="M165.41 245.72L169.01 246.63L170.94 247.51L171.78 248.32L176.78 250.03L177.77 252.06L181.2 253.45L182.05 255.85L184.46 256.99" fill="none" stroke="#000" stroke-width="0.85"/>
<path d="M159.59 262.75L162.99 264.23L165.06 264.73L166.22 264.6L171.22 266.31L173.23 265.31L176.8 266.31L178.95 264.93L181.54 265.51" fill="none" stroke="#000" stroke-width="0.85"/>
<path d="M159.59 262.75A6.17 9 18.88 0 1 165.41 245.72" fill="none" stroke="#000" stroke-width="0.85"/>
<ellipse cx="183" cy="261.25" rx="3.08" ry="4.5" transform="rotate(18.88 183 261.25)" fill="#fff" stroke="#000" stroke-width="0.85"/>
<path d="M162.49 264.06A6.37 9.3 18.88 0 1 168.51 246.46" fill="none" stroke="#000" stroke-width="1.6"/>
<path d="M165.06 264.73A6.23 9.1 18.88 0 1 170.94 247.51" fill="none" stroke="#000" stroke-width="0.85"/>
<path d="M166.22 264.6A5.89 8.6 18.88 0 1 171.78 248.32" fill="none" stroke="#000" stroke-width="0.85"/>
<path d="M169.22 265.62A5.89 8.6 18.88 0 1 174.78 249.35" fill="none" stroke="#000" stroke-width="0.85"/>
<path d="M171.22 266.31A5.89 8.6 18.88 0 1 176.78 250.03" fill="none" stroke="#000" stroke-width="0.85"/>
<path d="M173.23 265.31A4.79 7 18.88 0 1 177.77 252.06" fill="none" stroke="#000" stroke-width="0.85"/>
<path d="M176.8 266.31A4.66 6.8 18.88 0 1 181.2 253.45" fill="none" stroke="#000" stroke-width="1.1"/>
<path d="M178.95 264.93A3.29 4.8 18.88 0 1 182.05 255.85" fill="none" stroke="#000" stroke-width="0.85"/>
<ellipse cx="183.6" cy="261.39" rx="2.06" ry="3" transform="rotate(18.88 183.6 261.39)" fill="#333" stroke="#000" stroke-width="0.8"/>
<ellipse cx="185" cy="261.93" rx="1.92" ry="2.8" transform="rotate(18.88 185 261.93)" fill="#fff" stroke="none" stroke-width="0"/>
<ellipse cx="209" cy="270.14" rx="1.92" ry="2.8" transform="rotate(18.88 209 270.14)" fill="#fff" stroke="none" stroke-width="0"/>
<path d="M185.91 259.28L209.91 267.49L208.09 272.79L184.09 264.58Z" fill="#fff" stroke="none" stroke-width="0"/>
<path d="M185.91 259.28L209.91 267.49" fill="none" stroke="#000" stroke-width="0.8"/>
<path d="M184.09 264.58L208.09 272.79" fill="none" stroke="#000" stroke-width="0.8"/>
<path d="M184.09 264.58A1.92 2.8 18.88 0 1 185.91 259.28" fill="none" stroke="#000" stroke-width="0.8"/>
<path d="M208.09 272.79A1.92 2.8 18.88 0 1 209.91 267.49" fill="none" stroke="#000" stroke-width="0.8"/>
<ellipse cx="206.6" cy="269.32" rx="2.88" ry="4.2" transform="rotate(18.88 206.6 269.32)" fill="#222" stroke="none" stroke-width="0"/>
<ellipse cx="208.2" cy="269.87" rx="2.88" ry="4.2" transform="rotate(18.88 208.2 269.87)" fill="#222" stroke="none" stroke-width="0"/>
<path d="M207.96 265.34L209.56 265.89L206.84 273.84L205.24 273.29Z" fill="#222" stroke="none" stroke-width="0"/>
<path d="M207.96 265.34L209.56 265.89" fill="none" stroke="#000" stroke-width="0.8"/>
<path d="M205.24 273.29L206.84 273.84" fill="none" stroke="#000" stroke-width="0.8"/>
<path d="M205.24 273.29A2.88 4.2 18.88 0 1 207.96 265.34" fill="none" stroke="#000" stroke-width="0.8"/>
<ellipse cx="208.2" cy="269.87" rx="2.88" ry="4.2" transform="rotate(18.88 208.2 269.87)" fill="#222" stroke="#000" stroke-width="0.8"/>
<ellipse cx="212" cy="271.17" rx="4.32" ry="6.3" transform="rotate(18.88 212 271.17)" fill="#fff" stroke="none" stroke-width="0"/>
<ellipse cx="215" cy="272.19" rx="5.89" ry="8.6" transform="rotate(18.88 215 272.19)" fill="#fff" stroke="none" stroke-width="0"/>
<ellipse cx="217" cy="272.88" rx="6.64" ry="9.7" transform="rotate(18.88 217 272.88)" fill="#fff" stroke="none" stroke-width="0"/>
<ellipse cx="222" cy="274.59" rx="6.78" ry="9.9" transform="rotate(18.88 222 274.59)" fill="#fff" stroke="none" stroke-width="0"/>
<ellipse cx="224.5" cy="275.44" rx="6.58" ry="9.6" transform="rotate(18.88 224.5 275.44)" fill="#fff" stroke="none" stroke-width="0"/>
<ellipse cx="225.5" cy="275.78" rx="5.34" ry="7.8" transform="rotate(18.88 225.5 275.78)" fill="#fff" stroke="none" stroke-width="0"/>
<path d="M214.04 265.2L217.78 264.05L220.14 263.7L225.2 265.22L227.61 266.36L228.02 268.4L222.98 283.16L221.39 284.52L218.8 283.95L213.86 282.05L212.22 280.33L209.96 277.13Z" fill="#fff" stroke="none" stroke-width="0"/>
<path d="M214.04 265.2L217.78 264.05L220.14 263.7L225.2 265.22L227.61 266.36L228.02 268.4" fill="none" stroke="#000" stroke-width="0.9"/>
<path d="M209.96 277.13L212.22 280.33L213.86 282.05L218.8 283.95L221.39 284.52L222.98 283.16" fill="none" stroke="#000" stroke-width="0.9"/>
<path d="M209.96 277.13A4.32 6.3 18.88 0 1 214.04 265.2" fill="none" stroke="#000" stroke-width="0.9"/>
<ellipse cx="225.5" cy="275.78" rx="5.34" ry="7.8" transform="rotate(18.88 225.5 275.78)" fill="#fff" stroke="#000" stroke-width="0.9"/>
<path d="M212.22 280.33A5.89 8.6 18.88 0 1 217.78 264.05" fill="none" stroke="#000" stroke-width="0.9"/>
<path d="M213.86 282.05A6.64 9.7 18.88 0 1 220.14 263.7" fill="none" stroke="#000" stroke-width="1.4"/>
<path d="M216.3 283.1A6.78 9.9 18.88 0 1 222.7 264.36" fill="none" stroke="#000" stroke-width="0.9"/>
<path d="M218.8 283.95A6.78 9.9 18.88 0 1 225.2 265.22" fill="none" stroke="#000" stroke-width="0.9"/>
<ellipse cx="226.3" cy="275.93" rx="3.7" ry="5.4" transform="rotate(18.88 226.3 275.93)" fill="#fff" stroke="#000" stroke-width="0.8"/>
<ellipse cx="227" cy="276.3" rx="2.74" ry="4" transform="rotate(18.88 227 276.3)" fill="#fff" stroke="none" stroke-width="0"/>
<ellipse cx="232.5" cy="278.18" rx="2.74" ry="4" transform="rotate(18.88 232.5 278.18)" fill="#fff" stroke="none" stroke-width="0"/>
<path d="M228.29 272.51L233.79 274.39L231.21 281.96L225.71 280.08Z" fill="#fff" stroke="none" stroke-width="0"/>
<path d="M228.29 272.51L233.79 274.39" fill="none" stroke="#000" stroke-width="0.8"/>
<path d="M225.71 280.08L231.21 281.96" fill="none" stroke="#000" stroke-width="0.8"/>
<path d="M225.71 280.08A2.74 4 18.88 0 1 228.29 272.51" fill="none" stroke="#000" stroke-width="0.8"/>
<ellipse cx="232.5" cy="278.18" rx="2.74" ry="4" transform="rotate(18.88 232.5 278.18)" fill="#fff" stroke="#000" stroke-width="0.8"/>
<ellipse cx="233" cy="278.35" rx="2.12" ry="3.1" transform="rotate(18.88 233 278.35)" fill="#222" stroke="none" stroke-width="0"/>
<ellipse cx="239.5" cy="280.57" rx="2.12" ry="3.1" transform="rotate(18.88 239.5 280.57)" fill="#222" stroke="none" stroke-width="0"/>
<path d="M234 275.41L240.5 277.64L238.5 283.5L232 281.28Z" fill="#222" stroke="none" stroke-width="0"/>
<path d="M234 275.41L240.5 277.64" fill="none" stroke="#000" stroke-width="0.8"/>
<path d="M232 281.28L238.5 283.5" fill="none" stroke="#000" stroke-width="0.8"/>
<path d="M232 281.28A2.12 3.1 18.88 0 1 234 275.41" fill="none" stroke="#000" stroke-width="0.8"/>
<ellipse cx="239.5" cy="280.57" rx="2.12" ry="3.1" transform="rotate(18.88 239.5 280.57)" fill="#222" stroke="#000" stroke-width="0.8"/>
<ellipse cx="239.5" cy="280.57" rx="1.99" ry="2.9" transform="rotate(18.88 239.5 280.57)" fill="#fff" stroke="none" stroke-width="0"/>
<ellipse cx="244" cy="282.11" rx="1.99" ry="2.9" transform="rotate(18.88 244 282.11)" fill="#fff" stroke="none" stroke-width="0"/>
<path d="M240.44 277.83L244.94 279.37L243.06 284.85L238.56 283.31Z" fill="#fff" stroke="none" stroke-width="0"/>
<path d="M240.44 277.83L244.94 279.37" fill="none" stroke="#000" stroke-width="0.8"/>
<path d="M238.56 283.31L243.06 284.85" fill="none" stroke="#000" stroke-width="0.8"/>
<path d="M238.56 283.31A1.99 2.9 18.88 0 1 240.44 277.83" fill="none" stroke="#000" stroke-width="0.8"/>
<ellipse cx="244" cy="282.11" rx="1.99" ry="2.9" transform="rotate(18.88 244 282.11)" fill="#fff" stroke="#000" stroke-width="0.8"/>
<ellipse cx="244" cy="282.11" rx="1.51" ry="2.2" transform="rotate(18.88 244 282.11)" fill="#fff" stroke="none" stroke-width="0"/>
<ellipse cx="247.6" cy="283.34" rx="1.51" ry="2.2" transform="rotate(18.88 247.6 283.34)" fill="#fff" stroke="none" stroke-width="0"/>
<path d="M244.71 280.03L248.31 281.26L246.89 285.42L243.29 284.19Z" fill="#fff" stroke="none" stroke-width="0"/>
<path d="M244.71 280.03L248.31 281.26" fill="none" stroke="#000" stroke-width="0.8"/>
<path d="M243.29 284.19L246.89 285.42" fill="none" stroke="#000" stroke-width="0.8"/>
<path d="M243.29 284.19A1.51 2.2 18.88 0 1 244.71 280.03" fill="none" stroke="#000" stroke-width="0.8"/>
<ellipse cx="247.6" cy="283.34" rx="1.51" ry="2.2" transform="rotate(18.88 247.6 283.34)" fill="#fff" stroke="#000" stroke-width="0.8"/>
<text transform="translate(245.6 62.8) scale(0.74 1)" text-anchor="middle" font-size="11.7" font-weight="bold" stroke="#000" stroke-width="0.35">1</text>
<line x1="242.8" y1="62.5" x2="225" y2="79.6" stroke="#000" stroke-width="0.7"/>
<text transform="translate(497.2 442.5) scale(0.74 1)" text-anchor="middle" font-size="11.7" font-weight="bold" stroke="#000" stroke-width="0.35">1</text>
<line x1="501.8" y1="436.6" x2="523.6" y2="421.7" stroke="#000" stroke-width="0.7"/>
<line x1="283.7" y1="127.98" x2="297.65" y2="132.72" stroke="#000" stroke-width="0.55"/>
<line x1="287.8" y1="135.92" x2="294.76" y2="138.28" stroke="#000" stroke-width="0.55"/>
<line x1="280.3" y1="144.99" x2="291.21" y2="148.7" stroke="#000" stroke-width="0.55"/>
<line x1="283" y1="152.66" x2="290.09" y2="155.07" stroke="#000" stroke-width="0.55"/>
<line x1="338.25" y1="146.52" x2="424.18" y2="175.74" stroke="#000" stroke-width="0.55"/>
<line x1="340.25" y1="153.75" x2="420.73" y2="181.11" stroke="#000" stroke-width="0.55"/>
<line x1="334.69" y1="163.48" x2="417.2" y2="191.53" stroke="#000" stroke-width="0.55"/>
<line x1="328.62" y1="168.17" x2="416.68" y2="198.12" stroke="#000" stroke-width="0.55"/>
<line x1="437.8" y1="181.85" x2="467.4" y2="191.91" stroke="#000" stroke-width="0.55"/>
<line x1="435.54" y1="188.47" x2="459.3" y2="196.55" stroke="#000" stroke-width="0.55"/>
<line x1="437.24" y1="196.55" x2="464" y2="205.65" stroke="#000" stroke-width="0.55"/>
<line x1="435.1" y1="202.8" x2="454.8" y2="209.49" stroke="#000" stroke-width="0.55"/>
<line x1="286.1" y1="285.52" x2="294.29" y2="288.31" stroke="#000" stroke-width="0.55"/>
<line x1="277.2" y1="289.88" x2="290.77" y2="294.5" stroke="#000" stroke-width="0.55"/>
<line x1="281.8" y1="298.95" x2="288.54" y2="301.24" stroke="#000" stroke-width="0.55"/>
<line x1="273.2" y1="302.99" x2="287.68" y2="307.92" stroke="#000" stroke-width="0.55"/>
<line x1="310.25" y1="292.26" x2="378.58" y2="315.53" stroke="#000" stroke-width="0.55"/>
<line x1="313.25" y1="299.83" x2="375.69" y2="321.09" stroke="#000" stroke-width="0.55"/>
<line x1="307.69" y1="309.56" x2="372.15" y2="331.51" stroke="#000" stroke-width="0.55"/>
<line x1="300.62" y1="313.91" x2="371.02" y2="337.89" stroke="#000" stroke-width="0.55"/>
<line x1="415.25" y1="328.02" x2="462.2" y2="344" stroke="#000" stroke-width="0.55"/>
<line x1="419.25" y1="335.93" x2="466.9" y2="352.15" stroke="#000" stroke-width="0.55"/>
<line x1="413.69" y1="345.65" x2="456.7" y2="360.3" stroke="#000" stroke-width="0.55"/>
<line x1="405.62" y1="349.66" x2="460" y2="368.18" stroke="#000" stroke-width="0.55"/>
<line x1="340" y1="101.8" x2="332.5" y2="114.9" stroke="#000" stroke-width="0.6"/>
<line x1="453" y1="301.5" x2="446" y2="315" stroke="#000" stroke-width="0.6"/>
<line x1="329" y1="119.3" x2="329.4" y2="123.6" stroke="#000" stroke-width="1.7"/>
<line x1="445.4" y1="316.6" x2="446" y2="319.8" stroke="#000" stroke-width="1.5"/>
<ellipse cx="385.76" cy="162.18" rx="3.43" ry="5" transform="rotate(18.88 385.76 162.18)" fill="#fff" stroke="#000" stroke-width="2.2"/>
<ellipse cx="394.89" cy="172.37" rx="3.43" ry="5" transform="rotate(18.88 394.89 172.37)" fill="#fff" stroke="#000" stroke-width="2.2"/>
<ellipse cx="384.92" cy="187.38" rx="3.43" ry="5" transform="rotate(18.88 384.92 187.38)" fill="#fff" stroke="#000" stroke-width="2.2"/>
<ellipse cx="375.79" cy="177.19" rx="3.43" ry="5" transform="rotate(18.88 375.79 177.19)" fill="#fff" stroke="#000" stroke-width="2.2"/>
<ellipse cx="385.34" cy="174.78" rx="8.36" ry="12.2" transform="rotate(18.88 385.34 174.78)" fill="#fff" stroke="#000" stroke-width="2.2"/>
<ellipse cx="385.76" cy="162.18" rx="3.43" ry="5" transform="rotate(18.88 385.76 162.18)" fill="#fff" stroke="none" stroke-width="0"/>
<ellipse cx="394.89" cy="172.37" rx="3.43" ry="5" transform="rotate(18.88 394.89 172.37)" fill="#fff" stroke="none" stroke-width="0"/>
<ellipse cx="384.92" cy="187.38" rx="3.43" ry="5" transform="rotate(18.88 384.92 187.38)" fill="#fff" stroke="none" stroke-width="0"/>
<ellipse cx="375.79" cy="177.19" rx="3.43" ry="5" transform="rotate(18.88 375.79 177.19)" fill="#fff" stroke="none" stroke-width="0"/>
<ellipse cx="385.34" cy="174.78" rx="8.36" ry="12.2" transform="rotate(18.88 385.34 174.78)" fill="#fff" stroke="none" stroke-width="0"/>
<ellipse cx="388.22" cy="163.02" rx="3.43" ry="5" transform="rotate(18.88 388.22 163.02)" fill="#fff" stroke="#000" stroke-width="2.5"/>
<ellipse cx="397.35" cy="173.21" rx="3.43" ry="5" transform="rotate(18.88 397.35 173.21)" fill="#fff" stroke="#000" stroke-width="2.5"/>
<ellipse cx="387.38" cy="188.22" rx="3.43" ry="5" transform="rotate(18.88 387.38 188.22)" fill="#fff" stroke="#000" stroke-width="2.5"/>
<ellipse cx="378.25" cy="178.03" rx="3.43" ry="5" transform="rotate(18.88 378.25 178.03)" fill="#fff" stroke="#000" stroke-width="2.5"/>
<ellipse cx="387.8" cy="175.62" rx="8.36" ry="12.2" transform="rotate(18.88 387.8 175.62)" fill="#fff" stroke="#000" stroke-width="2.5"/>
<ellipse cx="388.22" cy="163.02" rx="3.43" ry="5" transform="rotate(18.88 388.22 163.02)" fill="#fff" stroke="none" stroke-width="0"/>
<ellipse cx="397.35" cy="173.21" rx="3.43" ry="5" transform="rotate(18.88 397.35 173.21)" fill="#fff" stroke="none" stroke-width="0"/>
<ellipse cx="387.38" cy="188.22" rx="3.43" ry="5" transform="rotate(18.88 387.38 188.22)" fill="#fff" stroke="none" stroke-width="0"/>
<ellipse cx="378.25" cy="178.03" rx="3.43" ry="5" transform="rotate(18.88 378.25 178.03)" fill="#fff" stroke="none" stroke-width="0"/>
<ellipse cx="387.8" cy="175.62" rx="8.36" ry="12.2" transform="rotate(18.88 387.8 175.62)" fill="#fff" stroke="none" stroke-width="0"/>
<ellipse cx="388.05" cy="163.26" rx="1.37" ry="2" transform="rotate(18.88 388.05 163.26)" fill="#222" stroke="#000" stroke-width="1"/>
<ellipse cx="397.21" cy="173.04" rx="1.37" ry="2" transform="rotate(18.88 397.21 173.04)" fill="#222" stroke="#000" stroke-width="1"/>
<ellipse cx="387.55" cy="187.99" rx="1.37" ry="2" transform="rotate(18.88 387.55 187.99)" fill="#222" stroke="#000" stroke-width="1"/>
<ellipse cx="378.39" cy="178.21" rx="1.37" ry="2" transform="rotate(18.88 378.39 178.21)" fill="#222" stroke="#000" stroke-width="1"/>
<ellipse cx="388.56" cy="175.88" rx="5.48" ry="8" transform="rotate(18.88 388.56 175.88)" fill="#111" stroke="#000" stroke-width="1"/>
<ellipse cx="389.88" cy="176.33" rx="4.25" ry="6.2" transform="rotate(18.88 389.88 176.33)" fill="#fff" stroke="#000" stroke-width="0.8"/>
<ellipse cx="397.3" cy="174.18" rx="1.85" ry="2.7" transform="rotate(18.88 397.3 174.18)" fill="#111" stroke="#000" stroke-width="0.8"/>
<ellipse cx="389.49" cy="186.26" rx="1.85" ry="2.7" transform="rotate(18.88 389.49 186.26)" fill="#111" stroke="#000" stroke-width="0.8"/>
<ellipse cx="390.17" cy="176.43" rx="3.29" ry="4.8" transform="rotate(18.88 390.17 176.43)" fill="#fff" stroke="none" stroke-width="0"/>
<ellipse cx="396.79" cy="178.7" rx="3.29" ry="4.8" transform="rotate(18.88 396.79 178.7)" fill="#fff" stroke="none" stroke-width="0"/>
<path d="M391.72 171.89L398.34 174.15L395.24 183.24L388.61 180.97Z" fill="#fff" stroke="none" stroke-width="0"/>
<path d="M391.72 171.89L398.34 174.15" fill="none" stroke="#000" stroke-width="1"/>
<path d="M388.61 180.97L395.24 183.24" fill="none" stroke="#000" stroke-width="1"/>
<path d="M388.61 180.97A3.29 4.8 18.88 0 1 391.72 171.89" fill="none" stroke="#000" stroke-width="1"/>
<ellipse cx="396.79" cy="178.7" rx="3.29" ry="4.8" transform="rotate(18.88 396.79 178.7)" fill="#fff" stroke="#000" stroke-width="1"/>
<ellipse cx="396.79" cy="178.7" rx="3.29" ry="4.8" transform="rotate(18.88 396.79 178.7)" fill="#fff" stroke="#000" stroke-width="1.1"/>
<ellipse cx="396.79" cy="178.7" rx="2.06" ry="3" transform="rotate(18.88 396.79 178.7)" fill="#222" stroke="#000" stroke-width="1"/>
<ellipse cx="397.26" cy="178.86" rx="1.03" ry="1.5" transform="rotate(18.88 397.26 178.86)" fill="#ddd" stroke="#000" stroke-width="0.5"/>
<ellipse cx="355.53" cy="307.19" rx="3.43" ry="5" transform="rotate(18.88 355.53 307.19)" fill="#fff" stroke="#000" stroke-width="1.8"/>
<ellipse cx="364.66" cy="317.38" rx="3.43" ry="5" transform="rotate(18.88 364.66 317.38)" fill="#fff" stroke="#000" stroke-width="1.8"/>
<ellipse cx="354.69" cy="332.39" rx="3.43" ry="5" transform="rotate(18.88 354.69 332.39)" fill="#fff" stroke="#000" stroke-width="1.8"/>
<ellipse cx="345.55" cy="322.19" rx="3.43" ry="5" transform="rotate(18.88 345.55 322.19)" fill="#fff" stroke="#000" stroke-width="1.8"/>
<ellipse cx="355.11" cy="319.79" rx="8.36" ry="12.2" transform="rotate(18.88 355.11 319.79)" fill="#fff" stroke="#000" stroke-width="1.8"/>
<ellipse cx="355.53" cy="307.19" rx="3.43" ry="5" transform="rotate(18.88 355.53 307.19)" fill="#fff" stroke="none" stroke-width="0"/>
<ellipse cx="364.66" cy="317.38" rx="3.43" ry="5" transform="rotate(18.88 364.66 317.38)" fill="#fff" stroke="none" stroke-width="0"/>
<ellipse cx="354.69" cy="332.39" rx="3.43" ry="5" transform="rotate(18.88 354.69 332.39)" fill="#fff" stroke="none" stroke-width="0"/>
<ellipse cx="345.55" cy="322.19" rx="3.43" ry="5" transform="rotate(18.88 345.55 322.19)" fill="#fff" stroke="none" stroke-width="0"/>
<ellipse cx="355.11" cy="319.79" rx="8.36" ry="12.2" transform="rotate(18.88 355.11 319.79)" fill="#fff" stroke="none" stroke-width="0"/>
<ellipse cx="357.42" cy="307.83" rx="3.43" ry="5" transform="rotate(18.88 357.42 307.83)" fill="#fff" stroke="#000" stroke-width="2"/>
<ellipse cx="366.55" cy="318.03" rx="3.43" ry="5" transform="rotate(18.88 366.55 318.03)" fill="#fff" stroke="#000" stroke-width="2"/>
<ellipse cx="356.58" cy="333.03" rx="3.43" ry="5" transform="rotate(18.88 356.58 333.03)" fill="#fff" stroke="#000" stroke-width="2"/>
<ellipse cx="347.45" cy="322.84" rx="3.43" ry="5" transform="rotate(18.88 347.45 322.84)" fill="#fff" stroke="#000" stroke-width="2"/>
<ellipse cx="357" cy="320.43" rx="8.36" ry="12.2" transform="rotate(18.88 357 320.43)" fill="#fff" stroke="#000" stroke-width="2"/>
<ellipse cx="357.42" cy="307.83" rx="3.43" ry="5" transform="rotate(18.88 357.42 307.83)" fill="#fff" stroke="none" stroke-width="0"/>
<ellipse cx="366.55" cy="318.03" rx="3.43" ry="5" transform="rotate(18.88 366.55 318.03)" fill="#fff" stroke="none" stroke-width="0"/>
<ellipse cx="356.58" cy="333.03" rx="3.43" ry="5" transform="rotate(18.88 356.58 333.03)" fill="#fff" stroke="none" stroke-width="0"/>
<ellipse cx="347.45" cy="322.84" rx="3.43" ry="5" transform="rotate(18.88 347.45 322.84)" fill="#fff" stroke="none" stroke-width="0"/>
<ellipse cx="357" cy="320.43" rx="8.36" ry="12.2" transform="rotate(18.88 357 320.43)" fill="#fff" stroke="none" stroke-width="0"/>
<ellipse cx="357.42" cy="307.83" rx="1.16" ry="1.7" transform="rotate(18.88 357.42 307.83)" fill="#333" stroke="#000" stroke-width="0.8"/>
<ellipse cx="366.55" cy="318.03" rx="1.16" ry="1.7" transform="rotate(18.88 366.55 318.03)" fill="#333" stroke="#000" stroke-width="0.8"/>
<ellipse cx="356.58" cy="333.03" rx="1.16" ry="1.7" transform="rotate(18.88 356.58 333.03)" fill="#333" stroke="#000" stroke-width="0.8"/>
<ellipse cx="347.45" cy="322.84" rx="1.16" ry="1.7" transform="rotate(18.88 347.45 322.84)" fill="#333" stroke="#000" stroke-width="0.8"/>
<ellipse cx="357" cy="320.43" rx="5.75" ry="8.4" transform="rotate(18.88 357 320.43)" fill="#fff" stroke="#000" stroke-width="1.9"/>
<ellipse cx="357" cy="320.43" rx="4.11" ry="6" transform="rotate(18.88 357 320.43)" fill="#fff" stroke="#000" stroke-width="0.9"/>
<ellipse cx="357" cy="320.43" rx="2.74" ry="4" transform="rotate(18.88 357 320.43)" fill="#ddd" stroke="#000" stroke-width="1.2"/>
<ellipse cx="357" cy="320.43" rx="1.37" ry="2" transform="rotate(18.88 357 320.43)" fill="#666" stroke="#000" stroke-width="0.8"/>
<ellipse cx="360.02" cy="316.89" rx="0.55" ry="0.8" transform="rotate(18.88 360.02 316.89)" fill="#222" stroke="#000" stroke-width="0.5"/>
<ellipse cx="357.22" cy="325.09" rx="0.55" ry="0.8" transform="rotate(18.88 357.22 325.09)" fill="#222" stroke="#000" stroke-width="0.5"/>
<ellipse cx="353.76" cy="319.33" rx="0.55" ry="0.8" transform="rotate(18.88 353.76 319.33)" fill="#222" stroke="#000" stroke-width="0.5"/>
<ellipse cx="283.7" cy="127.5" rx="2.8" ry="3.2" transform="rotate(18.88 283.7 127.5)" fill="#0a0a0a" stroke="#000" stroke-width="0.7"/>
<ellipse cx="284.1" cy="127.7" rx="0.7" ry="0.9" fill="#777"/>
<ellipse cx="287.8" cy="135.6" rx="2.8" ry="3.2" transform="rotate(18.88 287.8 135.6)" fill="#0a0a0a" stroke="#000" stroke-width="0.7"/>
<ellipse cx="288.2" cy="135.8" rx="0.7" ry="0.9" fill="#777"/>
<ellipse cx="280.3" cy="144.7" rx="2.8" ry="3.2" transform="rotate(18.88 280.3 144.7)" fill="#0a0a0a" stroke="#000" stroke-width="0.7"/>
<ellipse cx="280.7" cy="144.9" rx="0.7" ry="0.9" fill="#777"/>
<ellipse cx="283" cy="152.2" rx="2.8" ry="3.2" transform="rotate(18.88 283 152.2)" fill="#0a0a0a" stroke="#000" stroke-width="0.7"/>
<ellipse cx="283.4" cy="152.4" rx="0.7" ry="0.9" fill="#777"/>
<ellipse cx="462.2" cy="344.4" rx="2.8" ry="3.2" transform="rotate(18.88 462.2 344.4)" fill="#0a0a0a" stroke="#000" stroke-width="0.7"/>
<ellipse cx="462.6" cy="344.6" rx="0.7" ry="0.9" fill="#777"/>
<ellipse cx="466.9" cy="352.3" rx="2.8" ry="3.2" transform="rotate(18.88 466.9 352.3)" fill="#0a0a0a" stroke="#000" stroke-width="0.7"/>
<ellipse cx="467.3" cy="352.5" rx="0.7" ry="0.9" fill="#777"/>
<ellipse cx="456.7" cy="361.3" rx="2.8" ry="3.2" transform="rotate(18.88 456.7 361.3)" fill="#0a0a0a" stroke="#000" stroke-width="0.7"/>
<ellipse cx="457.1" cy="361.5" rx="0.7" ry="0.9" fill="#777"/>
<ellipse cx="460" cy="368.8" rx="2.8" ry="3.2" transform="rotate(18.88 460 368.8)" fill="#0a0a0a" stroke="#000" stroke-width="0.7"/>
<ellipse cx="460.4" cy="369" rx="0.7" ry="0.9" fill="#777"/>
<path d="M405.5 167.76L409.38 169.09L408.63 171.26L404.75 169.94Z" fill="#999" stroke="#000" stroke-width="0.7"/>
<path d="M409.54 168.61L411.81 169.39L410.74 172.51L408.47 171.74Z" fill="#000" stroke="#000" stroke-width="0.8"/>
<path d="M409.9 175.56L413.78 176.89L413.03 179.06L409.15 177.74Z" fill="#999" stroke="#000" stroke-width="0.7"/>
<path d="M413.94 176.41L416.21 177.19L415.14 180.31L412.87 179.54Z" fill="#000" stroke="#000" stroke-width="0.8"/>
<path d="M401.1 184.96L404.98 186.29L404.23 188.46L400.35 187.14Z" fill="#999" stroke="#000" stroke-width="0.7"/>
<path d="M405.14 185.81L407.41 186.59L406.34 189.71L404.07 188.94Z" fill="#000" stroke="#000" stroke-width="0.8"/>
<path d="M403.3 192.16L407.18 193.49L406.43 195.66L402.55 194.34Z" fill="#999" stroke="#000" stroke-width="0.7"/>
<path d="M407.34 193.01L409.61 193.79L408.54 196.91L406.27 196.14Z" fill="#000" stroke="#000" stroke-width="0.8"/>
<path d="M464.7 189.66L468.58 190.99L467.83 193.16L463.95 191.84Z" fill="#999" stroke="#000" stroke-width="0.7"/>
<path d="M468.74 190.51L471.01 191.29L469.94 194.41L467.67 193.64Z" fill="#000" stroke="#000" stroke-width="0.8"/>
<path d="M456.6 194.36L460.48 195.69L459.73 197.86L455.85 196.54Z" fill="#999" stroke="#000" stroke-width="0.7"/>
<path d="M460.64 195.21L462.91 195.99L461.84 199.11L459.57 198.34Z" fill="#000" stroke="#000" stroke-width="0.8"/>
<path d="M461.3 203.46L465.18 204.79L464.43 206.96L460.55 205.64Z" fill="#999" stroke="#000" stroke-width="0.7"/>
<path d="M465.34 204.31L467.61 205.09L466.54 208.21L464.27 207.44Z" fill="#000" stroke="#000" stroke-width="0.8"/>
<path d="M452.1 207.46L455.98 208.79L455.23 210.96L451.35 209.64Z" fill="#999" stroke="#000" stroke-width="0.7"/>
<path d="M456.14 208.31L458.41 209.09L457.34 212.21L455.07 211.44Z" fill="#000" stroke="#000" stroke-width="0.8"/>
<path d="M338.15 300.56L334.27 299.24L333.52 301.41L337.4 302.74Z" fill="#999" stroke="#000" stroke-width="0.7"/>
<path d="M334.43 298.76L332.16 297.99L331.09 301.11L333.36 301.89Z" fill="#000" stroke="#000" stroke-width="0.8"/>
<path d="M342.05 308.66L338.17 307.34L337.42 309.51L341.3 310.84Z" fill="#999" stroke="#000" stroke-width="0.7"/>
<path d="M338.33 306.86L336.06 306.09L334.99 309.21L337.26 309.99Z" fill="#000" stroke="#000" stroke-width="0.8"/>
<path d="M335.75 317.76L331.87 316.44L331.12 318.61L335 319.94Z" fill="#999" stroke="#000" stroke-width="0.7"/>
<path d="M332.03 315.96L329.76 315.19L328.69 318.31L330.96 319.09Z" fill="#000" stroke="#000" stroke-width="0.8"/>
<path d="M339.45 325.56L335.57 324.24L334.82 326.41L338.7 327.74Z" fill="#999" stroke="#000" stroke-width="0.7"/>
<path d="M335.73 323.76L333.46 322.99L332.39 326.11L334.66 326.89Z" fill="#000" stroke="#000" stroke-width="0.8"/>
<path d="M289.55 285.56L285.67 284.24L284.92 286.41L288.8 287.74Z" fill="#999" stroke="#000" stroke-width="0.7"/>
<path d="M285.83 283.76L283.56 282.99L282.49 286.11L284.76 286.89Z" fill="#000" stroke="#000" stroke-width="0.8"/>
<path d="M280.65 289.06L276.77 287.74L276.02 289.91L279.9 291.24Z" fill="#999" stroke="#000" stroke-width="0.7"/>
<path d="M276.93 287.26L274.66 286.49L273.59 289.61L275.86 290.39Z" fill="#000" stroke="#000" stroke-width="0.8"/>
<path d="M285.25 297.96L281.37 296.64L280.62 298.81L284.5 300.14Z" fill="#999" stroke="#000" stroke-width="0.7"/>
<path d="M281.53 296.16L279.26 295.39L278.19 298.51L280.46 299.29Z" fill="#000" stroke="#000" stroke-width="0.8"/>
<path d="M276.65 301.96L272.77 300.64L272.02 302.81L275.9 304.14Z" fill="#999" stroke="#000" stroke-width="0.7"/>
<path d="M272.93 300.16L270.66 299.39L269.59 302.51L271.86 303.29Z" fill="#000" stroke="#000" stroke-width="0.8"/>
<line x1="258.5" y1="124.8" x2="258.5" y2="140.6" stroke="#000" stroke-width="0.6"/>
<line x1="258.5" y1="111.2" x2="258.5" y2="124.8" stroke="#000" stroke-width="1.8"/>
<line x1="258.5" y1="110.9" x2="258.5" y2="112.7" stroke="#000" stroke-width="2.6"/>
<line x1="488.4" y1="349" x2="488.4" y2="360" stroke="#000" stroke-width="0.6"/>
<line x1="488.4" y1="337.4" x2="488.4" y2="349" stroke="#000" stroke-width="1.8"/>
<line x1="488.4" y1="337.1" x2="488.4" y2="338.9" stroke="#000" stroke-width="2.6"/>
<ellipse cx="260.3" cy="132.27" rx="5.43" ry="5.6" transform="rotate(18.88 260.3 132.27)" fill="#0a0a0a" stroke="#000" stroke-width="1"/>
<line x1="258.77" y1="129.64" x2="257.28" y2="133.99" stroke="#d8d8d8" stroke-width="1.3"/>
<line x1="262.9" y1="131.47" x2="261.67" y2="135.07" stroke="#eee" stroke-width="1.5"/>
<line x1="261.75" y1="128.96" x2="262.69" y2="129.6" stroke="#999" stroke-width="0.9"/>
<line x1="261.53" y1="128.04" x2="258.62" y2="136.56" stroke="#777" stroke-width="0.5"/>
<ellipse cx="486.8" cy="364.63" rx="5.43" ry="5.6" transform="rotate(18.88 486.8 364.63)" fill="#0a0a0a" stroke="#000" stroke-width="1"/>
<line x1="485.27" y1="361.99" x2="483.78" y2="366.35" stroke="#d8d8d8" stroke-width="1.3"/>
<line x1="489.4" y1="363.83" x2="488.17" y2="367.42" stroke="#eee" stroke-width="1.5"/>
<line x1="488.25" y1="361.32" x2="489.19" y2="361.96" stroke="#999" stroke-width="0.9"/>
<line x1="488.03" y1="360.4" x2="485.12" y2="368.92" stroke="#777" stroke-width="0.5"/>
<rect x="240.05" y="115.82" width="3.6" height="3.6" transform="rotate(-17.12 241.85 117.62)" fill="#fff" stroke="#000" stroke-width="1.8"/>
<rect x="249.34" y="119.11" width="3.6" height="3.6" transform="rotate(58.88 251.14 120.91)" fill="#fff" stroke="#000" stroke-width="1.8"/>
<rect x="242.56" y="134.57" width="3.6" height="3.6" transform="rotate(170.88 244.36 136.37)" fill="#fff" stroke="#000" stroke-width="1.8"/>
<rect x="234.92" y="130.82" width="3.6" height="3.6" transform="rotate(234.88 236.72 132.62)" fill="#fff" stroke="#000" stroke-width="1.8"/>
<ellipse cx="240.62" cy="125.57" rx="6.34" ry="8.8" transform="rotate(18.88 240.62 125.57)" fill="#111" stroke="#000" stroke-width="1.6"/>
<ellipse cx="242.42" cy="126.19" rx="6.66" ry="9" transform="rotate(18.88 242.42 126.19)" fill="#fff" stroke="#000" stroke-width="1.4"/>
<ellipse cx="243.65" cy="126.61" rx="6.59" ry="8.9" transform="rotate(18.88 243.65 126.61)" fill="#fff" stroke="#000" stroke-width="2.1"/>
<ellipse cx="243.65" cy="126.61" rx="5.32" ry="7" transform="rotate(18.88 243.65 126.61)" fill="#fff" stroke="#000" stroke-width="1.7"/>
<line x1="242.35" y1="122.36" x2="244.35" y2="126.42" stroke="#000" stroke-width="1.5"/>
<line x1="244.35" y1="126.42" x2="248.33" y2="126.52" stroke="#000" stroke-width="1.5"/>
<line x1="244.35" y1="126.42" x2="241.07" y2="132.28" stroke="#000" stroke-width="1.5"/>
<line x1="240.05" y1="126.01" x2="244.35" y2="126.42" stroke="#000" stroke-width="1.2"/>
<rect x="501.32" y="358.68" width="3.6" height="3.6" transform="rotate(-11.12 503.12 360.48)" fill="#fff" stroke="#000" stroke-width="1.5"/>
<rect x="509.86" y="363.05" width="3.6" height="3.6" transform="rotate(58.88 511.66 364.85)" fill="#fff" stroke="#000" stroke-width="1.5"/>
<rect x="503.71" y="378.7" width="3.6" height="3.6" transform="rotate(166.88 505.51 380.5)" fill="#fff" stroke="#000" stroke-width="1.5"/>
<rect x="494.9" y="375.65" width="3.6" height="3.6" transform="rotate(232.88 496.7 377.45)" fill="#fff" stroke="#000" stroke-width="1.5"/>
<ellipse cx="504.16" cy="370.54" rx="7.2" ry="9" transform="rotate(18.88 504.16 370.54)" fill="#fff" stroke="#000" stroke-width="1.8"/>
<path d="M507.01 362.22L511.08 367.62L507.85 377.09L501.32 378.87Z" fill="#fff" stroke="none" stroke-width="0"/>
<line x1="507.89" y1="362.73" x2="511.08" y2="367.62" stroke="#000" stroke-width="1.5"/>
<line x1="502.33" y1="379" x2="507.85" y2="377.09" stroke="#000" stroke-width="1.5"/>
<line x1="503.04" y1="363.33" x2="508.04" y2="367.85" stroke="#000" stroke-width="1.4"/>
<line x1="501.06" y1="369.12" x2="506.88" y2="371.26" stroke="#000" stroke-width="1.4"/>
<line x1="499.08" y1="374.91" x2="505.71" y2="374.67" stroke="#000" stroke-width="1.4"/>
<ellipse cx="509.46" cy="372.35" rx="3.5" ry="5" transform="rotate(18.88 509.46 372.35)" fill="#fff" stroke="#000" stroke-width="1.5"/>
<g transform="translate(341.9 98.6) rotate(20)">
<rect x="-2.3" y="-3.6" width="4.6" height="5.4" rx="2.0" fill="#fff" stroke="#000" stroke-width="1.4"/>
<rect x="-1.2" y="1.6" width="2.4" height="3.6" rx="0.8" fill="#111" stroke="#000" stroke-width="0.8"/>
</g>
<g transform="translate(454.5 298.7) rotate(20)">
<rect x="-2.3" y="-3.6" width="4.6" height="5.4" rx="2.0" fill="#fff" stroke="#000" stroke-width="1.4"/>
<rect x="-1.2" y="1.6" width="2.4" height="3.6" rx="0.8" fill="#111" stroke="#000" stroke-width="0.8"/>
</g>
<text transform="translate(222.9 157.65) scale(0.74 1)" text-anchor="middle" font-size="11.7" font-weight="bold" stroke="#000" stroke-width="0.35">2</text>
<line x1="228.1" y1="145.9" x2="235" y2="135.6" stroke="#000" stroke-width="0.65"/>
<text transform="translate(246.3 157.65) scale(0.74 1)" text-anchor="middle" font-size="11.7" font-weight="bold" stroke="#000" stroke-width="0.35">4</text>
<line x1="249.1" y1="146.5" x2="257.1" y2="135.8" stroke="#000" stroke-width="0.65"/>
<text transform="translate(267.2 98.55) scale(0.74 1)" text-anchor="middle" font-size="11.7" font-weight="bold" stroke="#000" stroke-width="0.35">3</text>
<line x1="265.9" y1="99.4" x2="258.8" y2="110.4" stroke="#000" stroke-width="0.65"/>
<text transform="translate(296.2 115.35) scale(0.74 1)" text-anchor="middle" font-size="11.7" font-weight="bold" stroke="#000" stroke-width="0.35">5</text>
<line x1="294.7" y1="118.1" x2="285.2" y2="125.9" stroke="#000" stroke-width="0.65"/>
<line x1="294.7" y1="118.1" x2="290.4" y2="133" stroke="#000" stroke-width="0.65"/>
<text transform="translate(271.5 170.05) scale(0.74 1)" text-anchor="middle" font-size="11.7" font-weight="bold" stroke="#000" stroke-width="0.35">5</text>
<line x1="273.7" y1="160.1" x2="279.3" y2="146.1" stroke="#000" stroke-width="0.65"/>
<line x1="273.7" y1="160.1" x2="282.7" y2="153.6" stroke="#000" stroke-width="0.65"/>
<text transform="translate(329.7 96.45) scale(0.74 1)" text-anchor="middle" font-size="11.7" font-weight="bold" stroke="#000" stroke-width="0.35">6</text>
<line x1="332.5" y1="93.4" x2="340.9" y2="97.1" stroke="#000" stroke-width="0.65"/>
<text transform="translate(381 112.65) scale(0.74 1)" text-anchor="middle" font-size="11.7" font-weight="bold" stroke="#000" stroke-width="0.35">7</text>
<line x1="379.1" y1="113" x2="368" y2="127" stroke="#000" stroke-width="0.65"/>
<text transform="translate(398.6 140.55) scale(0.74 1)" text-anchor="middle" font-size="11.7" font-weight="bold" stroke="#000" stroke-width="0.35">8</text>
<line x1="396.8" y1="141.4" x2="390.8" y2="158.6" stroke="#000" stroke-width="0.65"/>
<text transform="translate(419.2 151.75) scale(0.74 1)" text-anchor="middle" font-size="11.7" font-weight="bold" stroke="#000" stroke-width="0.35">9</text>
<line x1="419.2" y1="153.4" x2="408" y2="168.9" stroke="#000" stroke-width="0.65"/>
<line x1="419.2" y1="153.4" x2="416.6" y2="176.6" stroke="#000" stroke-width="0.65"/>
<text transform="translate(389.6 210.35) scale(0.74 1)" text-anchor="middle" font-size="11.7" font-weight="bold" stroke="#000" stroke-width="0.35">9</text>
<line x1="394.3" y1="201.3" x2="402" y2="187.5" stroke="#000" stroke-width="0.65"/>
<line x1="394.3" y1="201.3" x2="408" y2="196" stroke="#000" stroke-width="0.65"/>
<text transform="translate(446.8 155.15) scale(0.74 1)" text-anchor="middle" font-size="11.7" font-weight="bold" stroke="#000" stroke-width="0.35">10</text>
<line x1="445" y1="156" x2="441.6" y2="166.3" stroke="#000" stroke-width="0.65"/>
<text transform="translate(467.4 169.75) scale(0.74 1)" text-anchor="middle" font-size="11.7" font-weight="bold" stroke="#000" stroke-width="0.35">11</text>
<line x1="466.5" y1="171.5" x2="467.4" y2="191.3" stroke="#000" stroke-width="0.65"/>
<line x1="466.5" y1="171.5" x2="458" y2="194.7" stroke="#000" stroke-width="0.65"/>
<text transform="translate(454.5 230.65) scale(0.74 1)" text-anchor="middle" font-size="11.7" font-weight="bold" stroke="#000" stroke-width="0.35">11</text>
<line x1="458" y1="219.4" x2="454.5" y2="210.8" stroke="#000" stroke-width="0.65"/>
<line x1="458" y1="219.4" x2="463.5" y2="207.3" stroke="#000" stroke-width="0.65"/>
<text transform="translate(282.4 267.05) scale(0.74 1)" text-anchor="middle" font-size="11.7" font-weight="bold" stroke="#000" stroke-width="0.35">11</text>
<line x1="283.2" y1="269.6" x2="277.5" y2="286.8" stroke="#000" stroke-width="0.65"/>
<line x1="283.2" y1="269.6" x2="287" y2="284.3" stroke="#000" stroke-width="0.65"/>
<text transform="translate(275 332.45) scale(0.74 1)" text-anchor="middle" font-size="11.7" font-weight="bold" stroke="#000" stroke-width="0.35">11</text>
<line x1="277.5" y1="322.1" x2="274.1" y2="304.9" stroke="#000" stroke-width="0.65"/>
<line x1="277.5" y1="322.1" x2="282.7" y2="300.6" stroke="#000" stroke-width="0.65"/>
<text transform="translate(298 348.55) scale(0.74 1)" text-anchor="middle" font-size="11.7" font-weight="bold" stroke="#000" stroke-width="0.35">10</text>
<line x1="298.9" y1="338.6" x2="300.2" y2="330" stroke="#000" stroke-width="0.65"/>
<text transform="translate(352.8 288.65) scale(0.74 1)" text-anchor="middle" font-size="11.7" font-weight="bold" stroke="#000" stroke-width="0.35">9</text>
<line x1="351.5" y1="289.4" x2="334.3" y2="299.7" stroke="#000" stroke-width="0.65"/>
<line x1="351.5" y1="289.4" x2="341.2" y2="308.4" stroke="#000" stroke-width="0.65"/>
<text transform="translate(323.4 354.75) scale(0.74 1)" text-anchor="middle" font-size="11.7" font-weight="bold" stroke="#000" stroke-width="0.35">9</text>
<line x1="327.7" y1="343.5" x2="333" y2="318.6" stroke="#000" stroke-width="0.65"/>
<line x1="327.7" y1="343.5" x2="337.2" y2="327.2" stroke="#000" stroke-width="0.65"/>
<text transform="translate(349 364.25) scale(0.74 1)" text-anchor="middle" font-size="11.7" font-weight="bold" stroke="#000" stroke-width="0.35">8</text>
<line x1="350" y1="353.8" x2="353.6" y2="337.5" stroke="#000" stroke-width="0.65"/>
<text transform="translate(375.5 395.75) scale(0.74 1)" text-anchor="middle" font-size="11.7" font-weight="bold" stroke="#000" stroke-width="0.35">7</text>
<line x1="377.2" y1="386.3" x2="381.5" y2="374.2" stroke="#000" stroke-width="0.65"/>
<text transform="translate(436.6 292.75) scale(0.74 1)" text-anchor="middle" font-size="11.7" font-weight="bold" stroke="#000" stroke-width="0.35">6</text>
<line x1="440" y1="291.9" x2="453.8" y2="297" stroke="#000" stroke-width="0.65"/>
<text transform="translate(468 324.65) scale(0.74 1)" text-anchor="middle" font-size="11.7" font-weight="bold" stroke="#000" stroke-width="0.35">5</text>
<line x1="468.4" y1="326.3" x2="463.3" y2="343.5" stroke="#000" stroke-width="0.65"/>
<line x1="468.4" y1="326.3" x2="467.6" y2="351.3" stroke="#000" stroke-width="0.65"/>
<text transform="translate(444.3 389.75) scale(0.74 1)" text-anchor="middle" font-size="11.7" font-weight="bold" stroke="#000" stroke-width="0.35">5</text>
<line x1="447.8" y1="379.4" x2="455.5" y2="363" stroke="#000" stroke-width="0.65"/>
<line x1="447.8" y1="379.4" x2="459" y2="370.8" stroke="#000" stroke-width="0.65"/>
<text transform="translate(504.5 332.95) scale(0.74 1)" text-anchor="middle" font-size="11.7" font-weight="bold" stroke="#000" stroke-width="0.35">3</text>
<line x1="502.4" y1="332.2" x2="489" y2="337.6" stroke="#000" stroke-width="0.65"/>
<text transform="translate(477 400.05) scale(0.74 1)" text-anchor="middle" font-size="11.7" font-weight="bold" stroke="#000" stroke-width="0.35">4</text>
<line x1="483.7" y1="371" x2="478.7" y2="390" stroke="#000" stroke-width="0.65"/>
<text transform="translate(493.3 405.35) scale(0.74 1)" text-anchor="middle" font-size="11.7" font-weight="bold" stroke="#000" stroke-width="0.35">2</text>
<line x1="496" y1="394" x2="500.7" y2="380.3" stroke="#000" stroke-width="0.65"/>
<path d="M48.5 441.1L35.2 457.2L38.7 458.4L53 460.3L52.5 456.3L70.8 446L69.7 436.6L66.9 435.2L51.3 442.9L50.9 443.3Z" fill="#fff" stroke="#000" stroke-width="1"/>
<path d="M50.9 443.3L38.7 458.4" fill="none" stroke="#000" stroke-width="0.9"/>
<path d="M50.9 443.3L52.5 456.3" fill="none" stroke="#000" stroke-width="0.9"/>
<path d="M52 445.2L68.3 437L69.7 436.6" fill="none" stroke="#000" stroke-width="0.9"/>
<text transform="matrix(0.87 -0.47 0.07 1 51.6 456.4)" font-size="12.4" font-weight="bold" fill="#000" stroke="#000" stroke-width="0.7" textLength="18.2" lengthAdjust="spacingAndGlyphs">FWD</text>
</svg>
</body>
</html>
